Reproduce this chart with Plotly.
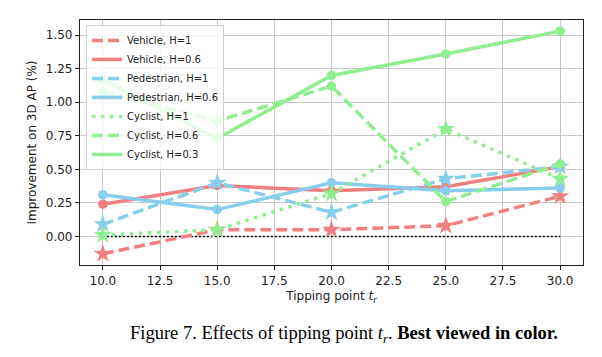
import plotly.graph_objects as go

tipping = [10, 15, 20, 25, 30]
vehicle_h1 = [-0.13, 0.05, 0.05, 0.08, 0.30]
vehicle_h06 = [0.24, 0.38, 0.34, 0.37, 0.52]
ped_h1 = [0.09, 0.40, 0.18, 0.43, 0.52]
ped_h06 = [0.31, 0.20, 0.40, 0.34, 0.36]
cyc_h1 = [0.01, 0.05, 0.32, 0.80, 0.43]
cyc_h06 = [1.08, 0.86, 1.12, 0.26, 0.54]
cyc_h03 = [1.17, 0.73, 1.20, 1.36, 1.53]

RED = "#F08080"
BLUE = "#87CEEB"
GREEN = "#90EE90"
DASH = "11px,5px"
DOT = "3.5px,5.5px"

series = [
    ("Vehicle, H=1", vehicle_h1, RED, DASH, "star"),
    ("Vehicle, H=0.6", vehicle_h06, RED, "solid", "circle"),
    ("Pedestrian, H=1", ped_h1, BLUE, DASH, "star"),
    ("Pedestrian, H=0.6", ped_h06, BLUE, "solid", "circle"),
    ("Cyclist, H=1", cyc_h1, GREEN, DOT, "star"),
    ("Cyclist, H=0.6", cyc_h06, GREEN, DASH, "circle"),
    ("Cyclist, H=0.3", cyc_h03, GREEN, "solid", "circle"),
]

fig = go.Figure()

# zero reference line
fig.add_trace(go.Scatter(x=[tipping[0], tipping[-1]], y=[0, 0], mode="lines",
                         line=dict(color="black", width=1.5, dash="2px,2px"),
                         showlegend=False, hoverinfo="skip"))

for name, vals, color, dash, sym in series:
    fig.add_trace(go.Scatter(x=tipping, y=vals, mode="lines", name=name,
                             line=dict(color=color, width=3.5, dash=dash)))
    fig.add_trace(go.Scatter(x=tipping, y=vals, mode="markers", showlegend=False,
                             marker=dict(color=color, symbol=sym,
                                         size=14 if sym == "star" else 9.5,
                                         line=dict(width=0))))

fig.update_layout(
    width=602, height=357,
    margin=dict(l=80, r=19, t=20, b=92),
    paper_bgcolor="white", plot_bgcolor="white",
    font=dict(family="DejaVu Sans", size=12, color="#222"),
    legend=dict(x=0.012, y=0.98, xanchor="left", yanchor="top",
                bgcolor="rgba(255,255,255,0.8)", bordercolor="#d0d0d0", borderwidth=1,
                font=dict(size=10, color="#222"), itemwidth=30,
                tracegroupgap=0),
    xaxis=dict(range=[9, 31], tick0=10, dtick=2.5, tickformat=".1f",
               showgrid=True, gridcolor="#c8c8c8", gridwidth=1,
               showline=True, linecolor="#222", linewidth=1.2, mirror=True,
               ticks="outside", ticklen=4, tickcolor="#222", zeroline=False,
               automargin=False,
               title=dict(text="Tipping point <i>t</i><sub><i>r</i></sub>", standoff=5,
                          font=dict(size=12))),
    yaxis=dict(range=[-0.213, 1.613], tick0=0, dtick=0.25, tickformat=".2f",
               showgrid=True, gridcolor="#c8c8c8", gridwidth=1,
               showline=True, linecolor="#222", linewidth=1.2, mirror=True,
               ticks="outside", ticklen=4, tickcolor="#222", zeroline=False,
               automargin=False,
               title=dict(text="Improvement on 3D AP (%)", standoff=6,
                          font=dict(size=12))),
)

fig.add_annotation(
    text="Figure 7. Effects of tipping point <i>t<sub>r</sub></i>. <b>Best viewed in color.</b>",
    xref="paper", yref="paper", x=0.525, y=-0.282, xanchor="center", yanchor="middle",
    showarrow=False, font=dict(family="Liberation Serif", size=18.5, color="black"))

fig.write_html("out.html",
               config={"displayModeBar": False},
               post_script="document.body.style.margin='0';document.body.style.overflow='hidden';")
